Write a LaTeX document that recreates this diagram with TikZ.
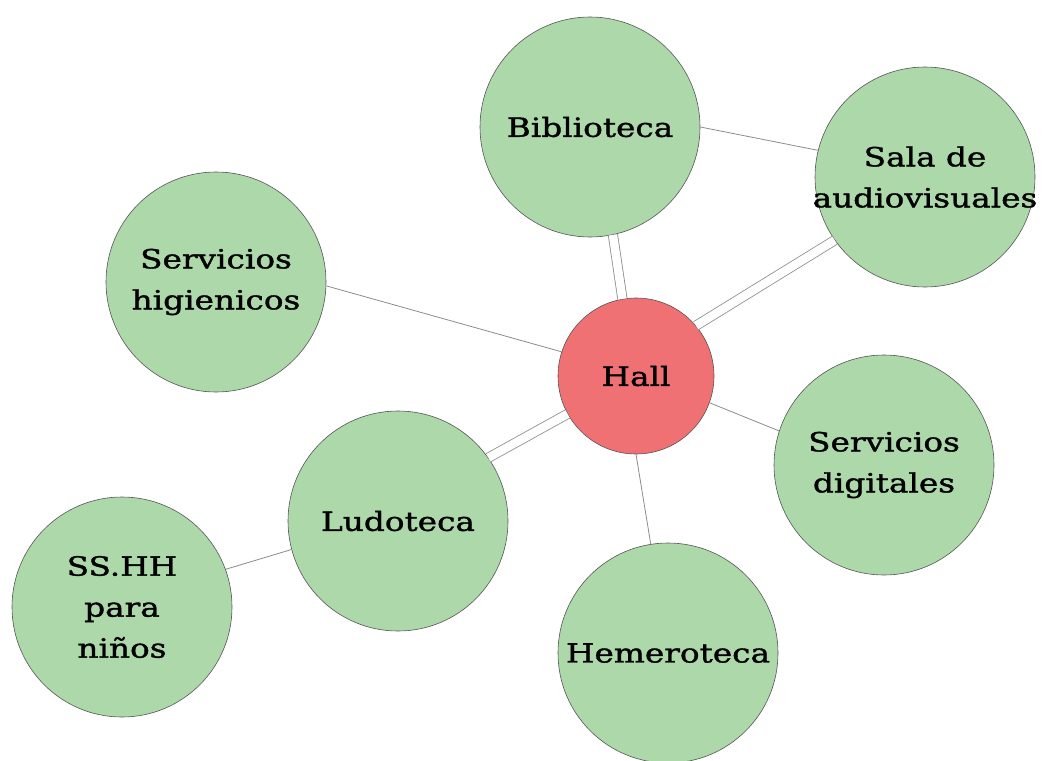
\documentclass[tikz,border=0pt]{standalone}
\usepackage{fontspec}
\setmainfont{DejaVu Serif}[FakeStretch=1.24,FakeBold=1.3]
\definecolor{cgreen}{HTML}{ADD8A9}
\definecolor{cred}{HTML}{F07174}
\definecolor{cedge}{HTML}{8C8C8C}
\definecolor{cborder}{HTML}{555555}
\begin{document}
\begin{tikzpicture}[x=1pt,y=-1pt,
  room/.style={circle,draw=cborder,line width=0.6pt,fill=cgreen,minimum size=220pt,inner sep=-25pt,align=center,font=\fontsize{26.4}{41}\selectfont},
  hallroom/.style={room,fill=cred,minimum size=156pt},
  single/.style={draw=cedge,line width=0.8pt},
  twin/.style={draw=cedge,line width=0.8pt,double=white,double distance=8.5pt}]
\useasboundingbox (0,0) rectangle (1043,760);
\node[room] (bib) at (590,127) {Biblioteca};
\node[room] (sala) at (925,177) {Sala de\\audiovisuales};
\node[room] (hig) at (216,282) {Servicios\\higienicos};
\node[hallroom] (hall) at (636,376) {Hall};
\node[room] (dig) at (884,465) {Servicios\\digitales};
\node[room] (lud) at (398,521) {Ludoteca};
\node[room] (sshh) at (122,607) {SS.HH\\para\\niños};
\node[room] (hem) at (668,653) {Hemeroteca};
\draw[single] (bib.0) -- (sala.166);
\draw[twin] (bib.-78) -- (hall.100);
\draw[twin] (hall.40) -- (sala.-145);
\draw[single] (hig.-2) -- (hall.162);
\draw[single] (hall.-20) -- (dig.162);
\draw[single] (hall.-90) -- (hem.99);
\draw[twin] (hall.209) -- (lud.35);
\draw[single] (sshh.20) -- (lud.195);
\end{tikzpicture}
\end{document}
